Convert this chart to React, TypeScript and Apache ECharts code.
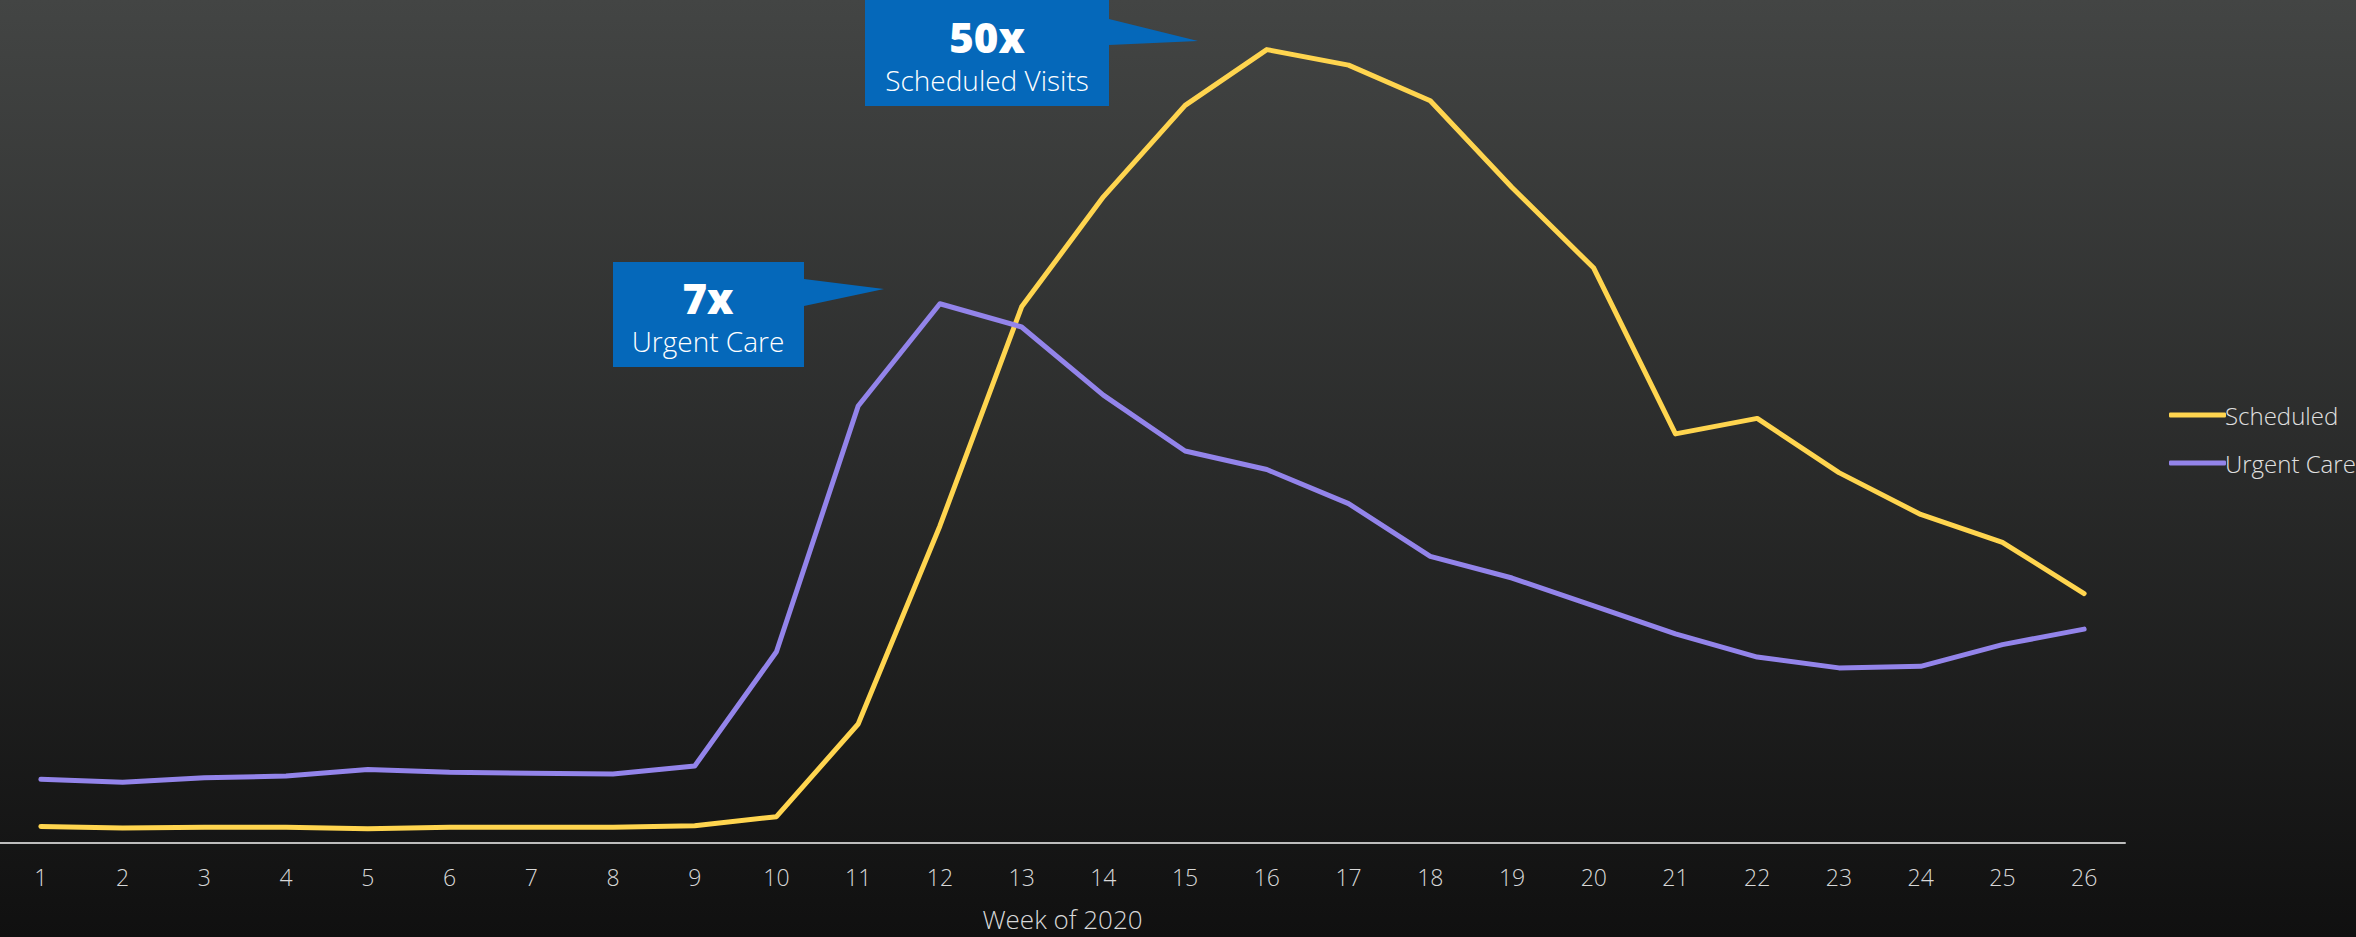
import React, { useEffect, useRef } from "react";
import * as echarts from "echarts";

const weeks = ["1","2","3","4","5","6","7","8","9","10","11","12","13","14","15","16","17","18","19","20","21","22","23","24","25","26"];
const scheduled = [1.07, 0.97, 1.02, 1.02, 0.92, 1.02, 1.02, 1.02, 1.12, 1.70, 7.68, 20.46, 34.6, 41.7, 47.6, 51.2, 50.2, 47.9, 42.3, 37.1, 26.4, 27.4, 23.9, 21.2, 19.4, 16.1];
const urgentCare = [4.11, 3.92, 4.21, 4.32, 4.75, 4.56, 4.50, 4.45, 4.97, 12.34, 28.2, 34.8, 33.3, 28.9, 25.3, 24.1, 21.9, 18.5, 17.1, 15.3, 13.5, 12.0, 11.3, 11.4, 12.8, 13.8];
const seriesNames = ["Scheduled", "Urgent Care"];
const callouts = [
  { big: "50x", small: "Scheduled Visits" },
  { big: "7x", small: "Urgent Care" },
];

const FONT = "'Open Sans', 'Noto Sans', sans-serif";
const YELLOW = "#FFD54F";
const PURPLE = "#9384EA";
const BLUE = "#0568BA";

export default function App() {
  const ref = useRef<HTMLDivElement>(null);
  useEffect(() => {
    if (!ref.current) return;
    const chart = echarts.init(ref.current, null, { renderer: "svg" });
    chart.setOption({
      animation: false,
      backgroundColor: new echarts.graphic.LinearGradient(0, 0, 0, 1, [
        { offset: 0, color: "#434544" },
        { offset: 1, color: "#101010" },
      ]),
      grid: { left: 0, right: 231, top: 0, bottom: 94, containLabel: false },
      legend: {
        orient: "vertical",
        left: 2164,
        top: 398,
        itemGap: 24,
        itemWidth: 57,
        itemHeight: 5,
        icon: "roundRect",
        formatter: "{t|{name}}",
        textStyle: {
          color: "#e0e0e0", fontFamily: FONT, fontWeight: 300, fontSize: 24, lineHeight: 24,
          rich: { t: { color: "#e0e0e0", fontFamily: FONT, fontWeight: 300, fontSize: 24, lineHeight: 24, padding: [0, 0, 0, -6] } },
        },
        data: seriesNames,
      },
      xAxis: {
        type: "category",
        data: weeks,
        boundaryGap: true,
        axisLine: { show: true, lineStyle: { color: "#bdbdbd", width: 2 } },
        axisTick: { show: false },
        axisLabel: { color: "#d8d8d8", fontFamily: FONT, fontWeight: 300, fontSize: 23, margin: 22 },
        name: "Week of 2020",
        nameLocation: "middle",
        nameGap: 63,
        nameTextStyle: { color: "#d8d8d8", fontFamily: FONT, fontWeight: 300, fontSize: 26 },
      },
      yAxis: {
        type: "value",
        min: 0,
        max: 54.4,
        show: false,
        splitLine: { show: false },
      },
      series: [
        {
          name: seriesNames[0],
          type: "line",
          data: scheduled,
          symbol: "none",
          lineStyle: { color: YELLOW, width: 5, cap: "round", join: "round" },
          itemStyle: { color: YELLOW },
        },
        {
          name: seriesNames[1],
          type: "line",
          data: urgentCare,
          symbol: "none",
          lineStyle: { color: PURPLE, width: 5, cap: "round", join: "round" },
          itemStyle: { color: PURPLE },
        },
      ],
      graphic: [
        {
          type: "polygon",
          shape: { points: [[865, 0], [1109, 0], [1109, 19], [1198, 41], [1109, 45], [1109, 106], [865, 106]] },
          style: { fill: BLUE },
        },
        {
          type: "text",
          x: 987, y: 36,
          style: { text: callouts[0].big, fill: "#ffffff", font: `800 42px ${FONT}`, align: "center", verticalAlign: "middle" },
        },
        {
          type: "text",
          x: 987, y: 80,
          style: { text: callouts[0].small, fill: "#ffffff", font: `300 28px ${FONT}`, align: "center", verticalAlign: "middle" },
        },
        {
          type: "polygon",
          shape: { points: [[613, 262], [804, 262], [804, 279], [884, 289], [804, 306], [804, 367], [613, 367]] },
          style: { fill: BLUE },
        },
        {
          type: "text",
          x: 708, y: 297,
          style: { text: callouts[1].big, fill: "#ffffff", font: `800 42px ${FONT}`, align: "center", verticalAlign: "middle" },
        },
        {
          type: "text",
          x: 708, y: 341,
          style: { text: callouts[1].small, fill: "#ffffff", font: `300 28px ${FONT}`, align: "center", verticalAlign: "middle" },
        },
      ],
    });
    return () => chart.dispose();
  }, []);
  return <div ref={ref} style={{ position: "fixed", left: 0, top: 0, width: 2356, height: 937 }} />;
}
